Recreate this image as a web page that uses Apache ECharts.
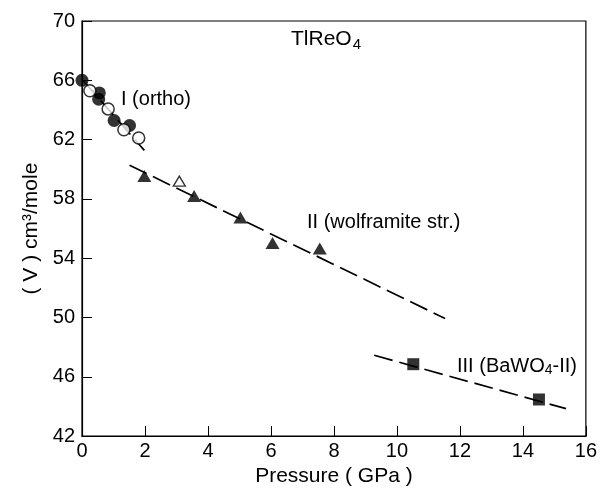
<!DOCTYPE html>
<html><head><meta charset="utf-8">
<script src="https://cdn.jsdelivr.net/npm/echarts@6/dist/echarts.min.js"></script>
<style>html,body{margin:0;padding:0;background:#fff}#c{width:600px;height:492px}</style>
</head><body><div id="c"></div>
<script>
// Phase I (ortho): filled and open circles
const phaseIFilled = [[0.0, 66.0], [0.55, 65.15], [0.53, 64.72], [1.02, 63.29], [1.51, 62.95]];
const phaseIOpen = [[0.25, 65.29], [0.83, 64.07], [1.33, 62.67], [1.8, 62.11]];
// Phase II (wolframite): filled and open triangles
const phaseIIFilled = [[1.98, 59.55], [3.56, 58.2], [5.03, 56.75], [6.05, 55.02], [7.55, 54.65]];
const phaseIIOpen = [[3.09, 59.2]];
// Phase III (BaWO4-II): squares
const phaseIII = [[10.52, 46.85], [14.51, 44.47]];
// dashed fit lines (end points)
const fitI = [[0.05, 65.95], [1.98, 61.27]];
const fitII = [[1.51, 60.27], [11.53, 49.93]];
const fitIII = [[9.28, 47.45], [15.37, 43.85]];
// axis ticks
const xTicks = [0, 2, 4, 6, 8, 10, 12, 14, 16];
const yTicks = [42, 46, 50, 54, 58, 62, 66, 70];

const FONT = '"Liberation Sans", Arial, Helvetica, sans-serif';
const chart = echarts.init(document.getElementById('c'), null, {renderer: 'canvas'});
const dash = w => ({color: '#000', width: 1.7, type: w});
const lineSeries = (d) => ({type: 'line', data: d, symbol: 'none', silent: true, lineStyle: dash([19, 7]), z: 2, animation: false});
chart.setOption({
  animation: false,
  backgroundColor: '#fff',
  grid: {left: 82, right: 10, top: 21, bottom: 51, show: true, borderColor: '#000', borderWidth: 1.2, containLabel: false},
  xAxis: {
    type: 'value', min: xTicks[0], max: xTicks[xTicks.length - 1], interval: 2,
    name: 'Pressure ( GPa )', nameLocation: 'middle', nameGap: 29,
    nameTextStyle: {fontFamily: FONT, fontSize: 21, color: '#000'},
    axisLine: {lineStyle: {color: '#000', width: 1.2}},
    axisTick: {inside: true, length: 10, lineStyle: {color: '#000', width: 1}},
    axisLabel: {margin: 5, fontFamily: FONT, fontSize: 20, color: '#000', customValues: xTicks},
    splitLine: {show: false}
  },
  yAxis: {
    type: 'value', min: yTicks[0], max: yTicks[yTicks.length - 1],
    name: '( V ) cm³/mole', nameLocation: 'middle', nameGap: 40, nameRotate: 90,
    nameTextStyle: {fontFamily: FONT, fontSize: 21, color: '#000'},
    axisLine: {lineStyle: {color: '#000', width: 1.2}},
    axisTick: {inside: true, length: 10, lineStyle: {color: '#000', width: 1}, customValues: yTicks},
    axisLabel: {margin: 7, fontFamily: FONT, fontSize: 20, color: '#000', customValues: yTicks},
    splitLine: {show: false}
  },
  series: [
    lineSeries(fitI), lineSeries(fitII), lineSeries(fitIII),
    {type: 'scatter', data: phaseIFilled, symbol: 'circle', symbolSize: 13, itemStyle: {color: '#000'}, z: 3},
    {type: 'scatter', data: phaseIOpen, symbol: 'circle', symbolSize: 12, itemStyle: {color: '#fff', borderColor: '#000', borderWidth: 1.5}, z: 4},
    {type: 'scatter', data: phaseIIFilled, symbol: 'triangle', symbolSize: [14, 12], itemStyle: {color: '#000'}, z: 3},
    {type: 'scatter', data: phaseIIOpen, symbol: 'triangle', symbolSize: [12, 10], itemStyle: {color: '#fff', borderColor: '#000', borderWidth: 1.3}, z: 3},
    {type: 'scatter', data: phaseIII, symbol: 'rect', symbolSize: 12, itemStyle: {color: '#000'}, z: 3}
  ],
  graphic: [
    {type: 'text', left: 291, top: 29, style: {text: '{a|TlReO}{s|4}', rich: {a: {fontFamily: FONT, fontSize: 21, fill: '#000'}, s: {fontFamily: FONT, fontSize: 15, fill: '#000', padding: [10, 0, 0, 1]}}}},
    {type: 'text', left: 121, top: 89, style: {text: 'I (ortho)', fontFamily: FONT, fontSize: 20, fill: '#000'}},
    {type: 'text', left: 307, top: 212, style: {text: 'II (wolframite str.)', fontFamily: FONT, fontSize: 20, fill: '#000'}},
    {type: 'text', left: 457, top: 356, style: {text: '{a|III (BaWO}{s|4}{a|-II)}', rich: {a: {fontFamily: FONT, fontSize: 20, fill: '#000'}, s: {fontFamily: FONT, fontSize: 14, fill: '#000', padding: [9, 0, 0, 0]}}}}
  ]
});
</script></body></html>
